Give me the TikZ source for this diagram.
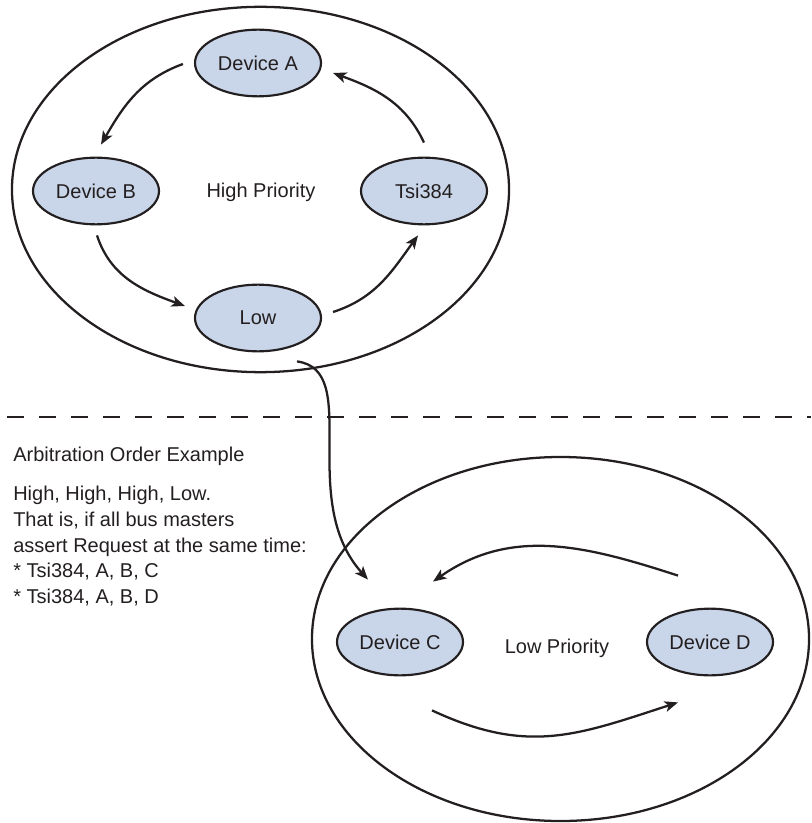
\documentclass[tikz,border=0pt]{standalone}
\usepackage{fontspec}
\setmainfont{Liberation Sans}
\usetikzlibrary{shapes.geometric,arrows.meta}
\definecolor{devfill}{HTML}{C9D5E8}
\definecolor{ink}{HTML}{231F20}
\tikzset{
    device/.style={ellipse,draw=ink,fill=devfill,line width=1.6pt,minimum width=94.5pt,minimum height=50pt,inner sep=0pt,text=ink},
    ring/.style={draw=ink,line width=1.7pt},
    flow/.style={->,draw=ink,line width=1.7pt},
    note/.style={anchor=base west,inner sep=0pt,text=ink}
}
\begin{document}
\begin{tikzpicture}[x=0.75pt,y=-0.75pt,>={Stealth[length=10pt,width=8pt,inset=2.5pt]},font=\fontsize{15}{18}\selectfont]
\useasboundingbox (0,0) rectangle (811,823);
% high priority group
\draw[ring] (260.5,189.5) ellipse [x radius=186.4pt,y radius=137pt];
\node[device] (devA) at (258,63) {Device A};
\node[device] (devB) at (96,191) {Device B};
\node[device] (tsi) at (424,191) {Tsi384};
\node[device] (low) at (258,318) {Low};
\node[text=ink] (highlabel) at (261,192) {High Priority};
\draw[flow] ([shift={(-11,1)}]devA.west) to[out=200,in=60] ([shift={(5,-12)}]devB.north);
\draw[flow] ([shift={(1,10)}]devB.south) to[out=-72,in=160] ([shift={(-9,-12)}]low.west);
\draw[flow] ([shift={(11,-6)}]low.east) to[out=18,in=234] ([shift={(-6,10)}]tsi.south);
\draw[flow] ([shift={(0,-14)}]tsi.north) to[out=115,in=-20] ([shift={(11,10)}]devA.east);

\draw[ink,line width=1.6pt,dash pattern=on 12.75pt off 11.25pt] (7,417) -- (811,417);

% example text
\node[note] (title) at (13,461) {Arbitration Order Example};
\foreach \y/\t [count=\i] in {500/{High, High, High, Low.},526/{That is, if all bus masters},552/{assert Request at the same time:},577/{* Tsi384, A, B, C},603/{* Tsi384, A, B, D}}
{
    \node[note] (line\i) at (13,\y) {\t};
}

% low priority group
\draw[ring] (560.5,639) ellipse [x radius=186.4pt,y radius=136.5pt];
\node[device] (devC) at (400,642) {Device C};
\node[device] (devD) at (710,642) {Device D};
\node[text=ink] (lowlabel) at (557,648) {Low Priority};
\draw[flow] ([shift={(-32,-32)}]devD.north) to[out=162,in=35] ([shift={(33,-26)}]devC.north);
\draw[flow] ([shift={(32,34)}]devC.south) to[out=-25,in=198,looseness=1.1] ([shift={(-32,26)}]devD.south);
\draw[flow] ([shift={(39,9)}]low.south) .. controls +(66,9) and +(-72,-80) .. ([shift={(-32,-28)}]devC.north);
\end{tikzpicture}
\end{document}
